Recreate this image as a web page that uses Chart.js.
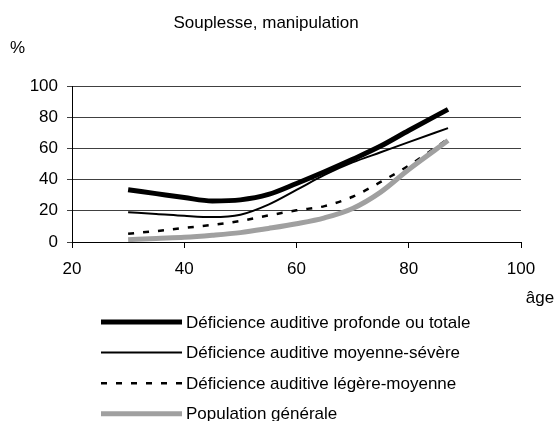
<!DOCTYPE html>
<html>
<head>
<meta charset="utf-8">
<script src="https://cdn.jsdelivr.net/npm/chart.js@4/dist/chart.umd.min.js"></script>
<style>
html, body { margin: 0; padding: 0; background: #fff; }
#wrap { width: 555px; height: 421px; }
</style>
</head>
<body>
<div id="wrap"><canvas id="chart" width="555" height="421"></canvas></div>
<script>
const title = 'Souplesse, manipulation';
const yTitle = '%';
const xTitle = 'âge';

const ages = [30, 35, 40, 45, 50, 55, 60, 65, 70, 75, 80, 87];

const seriesNames = [
  'Déficience auditive profonde ou totale',
  'Déficience auditive moyenne-sévère',
  'Déficience auditive légère-moyenne',
  'Population générale'
];

const profonde = [33.5, 31, 28.5, 26.3, 27, 30.5, 37.5, 45, 53, 61.5, 71.5, 85];
const moyenneSevere = [19, 18, 16.8, 16, 17.5, 24, 33.4, 43, 51, 57.5, 64, 73];
const legereMoyenne = [5.3, 7, 9, 11, 13.5, 17, 20.3, 23, 29, 38.5, 49, 66];
const populationGenerale = [1.5, 2.3, 3, 4.3, 6, 8.7, 11.7, 15.5, 21.5, 32, 46.5, 65];

const xTicks = [20, 40, 60, 80, 100];
const yTicks = [0, 20, 40, 60, 80, 100];

const FONT = 'Arial, "Liberation Sans", sans-serif';

function pts(vals) {
  return ages.map((a, i) => ({ x: a, y: vals[i] }));
}

const datasets = [
  { label: seriesNames[0], data: pts(profonde), borderColor: '#000', borderWidth: 5, order: 1 },
  { label: seriesNames[1], data: pts(moyenneSevere), borderColor: '#000', borderWidth: 2, order: 2 },
  { label: seriesNames[2], data: pts(legereMoyenne), borderColor: '#000', borderWidth: 2.5, borderDash: [6, 9], order: 3 },
  { label: seriesNames[3], data: pts(populationGenerale), borderColor: '#a0a0a0', borderWidth: 5, order: 0 }
];

// texts and legend drawn by hand
const extras = {
  id: 'extras',
  afterDraw(chart) {
    const ctx = chart.ctx;
    ctx.save();
    ctx.fillStyle = '#000';
    ctx.font = '17px ' + FONT;
    ctx.textBaseline = 'middle';

    ctx.textAlign = 'center';
    ctx.fillText(title, 266, 23);
    ctx.textAlign = 'left';
    ctx.fillText(yTitle, 10, 48);
    ctx.textAlign = 'center';
    ctx.fillText(xTitle, 540, 298);

    chart.data.datasets.forEach((ds, i) => {
      const y = 322 + i * 30.6;
      ctx.save();
      ctx.strokeStyle = ds.borderColor;
      ctx.lineWidth = ds.borderWidth;
      ctx.setLineDash(ds.borderDash || []);
      ctx.beginPath();
      ctx.moveTo(101, y);
      ctx.lineTo(182, y);
      ctx.stroke();
      ctx.restore();
      ctx.textAlign = 'left';
      ctx.fillText(ds.label, 186, y + 1);
    });
    ctx.restore();
  }
};

new Chart(document.getElementById('chart'), {
  type: 'line',
  data: { datasets: datasets },
  options: {
    responsive: false,
    animation: false,
    devicePixelRatio: 1,
    layout: { padding: { top: 86, right: 34, left: 0, bottom: 0 } },
    elements: {
      point: { radius: 0 },
      line: { tension: 0.4, cubicInterpolationMode: 'monotone', fill: false }
    },
    plugins: {
      legend: { display: false },
      title: { display: false },
      tooltip: { enabled: false }
    },
    scales: {
      x: {
        type: 'linear',
        min: 20,
        max: 100,
        afterBuildTicks: s => { s.ticks = xTicks.map(v => ({ value: v })); },
        afterFit: s => { s.height = 179; },
        ticks: { color: '#000', font: { size: 17, family: FONT }, padding: 11, maxRotation: 0 },
        grid: { drawOnChartArea: false, drawTicks: true, tickLength: 6, color: '#000' },
        border: { color: '#000', width: 1 }
      },
      y: {
        min: 0,
        max: 100,
        afterBuildTicks: s => { s.ticks = yTicks.map(v => ({ value: v })); },
        afterFit: s => { s.width = 72; },
        ticks: { color: '#000', font: { size: 17, family: FONT }, padding: 9 },
        grid: { color: '#404040', tickLength: 5 },
        border: { color: '#000', width: 1 }
      }
    }
  },
  plugins: [extras]
});
</script>
</body>
</html>
